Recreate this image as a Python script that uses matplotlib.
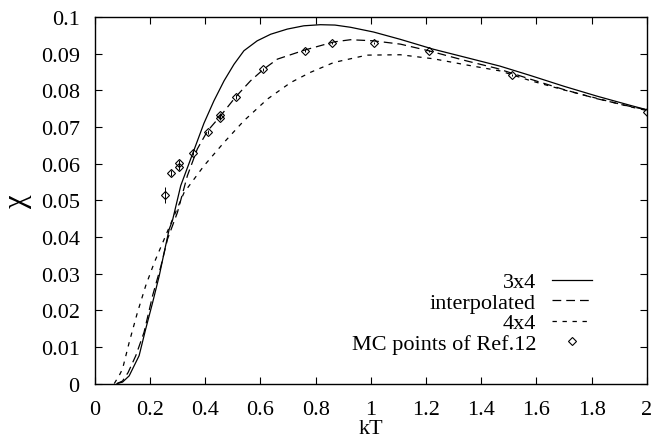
import numpy as np
import matplotlib
matplotlib.use("Agg")
import matplotlib.pyplot as plt
from matplotlib.ticker import FuncFormatter

plt.rcParams['font.family'] = ['Liberation Serif', 'DejaVu Serif']

# 3x4 cluster (solid)
kt_3x4 = [0.08, 0.10, 0.124, 0.16, 0.184, 0.209, 0.233, 0.251, 0.269, 0.281, 0.311, 0.357,
          0.395, 0.431, 0.468, 0.504, 0.54, 0.588, 0.637, 0.697, 0.757, 0.817, 0.87, 0.926,
          1.01, 1.107, 1.227, 1.348, 1.468, 1.58, 1.70, 1.82, 1.94, 2.0]
chi_3x4 = [0.0, 0.0004, 0.0021, 0.0076, 0.0149, 0.0221, 0.0294, 0.0358, 0.0421, 0.0445, 0.054, 0.0633,
           0.0710, 0.0771, 0.0826, 0.0871, 0.0908, 0.0935, 0.0953, 0.0967, 0.0976, 0.0979, 0.0978, 0.0972,
           0.0959, 0.0939, 0.0912, 0.0889, 0.0866, 0.0840, 0.0811, 0.0784, 0.0759, 0.0747]

# interpolated (long dashes)
kt_int = [0.08, 0.10, 0.12, 0.148, 0.178, 0.209, 0.239, 0.263, 0.299, 0.335, 0.371, 0.408,
          0.456, 0.51, 0.564, 0.612, 0.661, 0.761, 0.866, 0.926, 1.01, 1.107, 1.209, 1.348,
          1.456, 1.58, 1.70, 1.82, 1.94, 2.0]
chi_int = [0.0, 0.0007, 0.0030, 0.0076, 0.0140, 0.024, 0.032, 0.0394, 0.0467, 0.0567, 0.064, 0.0689,
           0.0731, 0.0782, 0.0826, 0.0858, 0.0885, 0.0910, 0.0932, 0.0938, 0.0935, 0.0926, 0.0908, 0.0880,
           0.0860, 0.0830, 0.0802, 0.0777, 0.0756, 0.0747]

# 4x4 cluster (short dashes)
kt_4x4 = [0.07, 0.09, 0.10, 0.124, 0.154, 0.184, 0.215, 0.251, 0.287, 0.323, 0.395, 0.468,
          0.54, 0.625, 0.709, 0.781, 0.866, 0.986, 1.107, 1.227, 1.348, 1.468, 1.58, 1.70,
          1.82, 1.94, 2.0]
chi_4x4 = [0.0, 0.0025, 0.0040, 0.0112, 0.0194, 0.0267, 0.0330, 0.0394, 0.0458, 0.0521, 0.0594, 0.0658,
           0.0717, 0.0776, 0.0821, 0.0849, 0.0876, 0.0896, 0.0897, 0.0886, 0.0869, 0.0853, 0.0826, 0.0801,
           0.0778, 0.0755, 0.0745]

# Monte Carlo points of Ref. 12
kt_mc = [0.255, 0.275, 0.305, 0.305, 0.355, 0.41, 0.455, 0.455, 0.51, 0.61, 0.76, 0.86,
         1.01, 1.21, 1.51, 2.0]
chi_mc = [0.0514, 0.0574, 0.0603, 0.0590, 0.0630, 0.0687, 0.0733, 0.0725, 0.0782, 0.0858, 0.0908, 0.0929,
          0.0929, 0.0908, 0.0841, 0.0742]
err_mc = [0.0022, 0.0008, 0.0008, 0.0008, 0.0007, 0.0006, 0.0006, 0.0006, 0.0005, 0.0004, 0.0004, 0.0004,
          0.0003, 0.0003, 0.0003, 0.0003]

fig = plt.figure(figsize=(6.64, 4.39), dpi=100)
ax = fig.add_axes([0.143, 0.124, 0.831, 0.835])

ax.plot(kt_3x4, chi_3x4, color='black', lw=0.9, label='3x4')
ax.plot(kt_int, chi_int, color='black', lw=0.9, dashes=(7, 4), label='interpolated')
ax.plot(kt_4x4, chi_4x4, color='black', lw=0.9, dashes=(3.5, 4.5), label='4x4')
ax.errorbar(kt_mc, chi_mc, yerr=err_mc, fmt='none', ecolor='black', elinewidth=0.7, capsize=0)
ax.plot(kt_mc, chi_mc, ls='none', marker='D', ms=4.5, mfc='none', mec='black', mew=0.8,
        label='MC points of Ref.12')

ax.set_xlim(0, 2)
ax.set_ylim(0, 0.1)
ax.set_xticks(np.arange(0, 2.01, 0.2))
ax.set_yticks(np.arange(0, 0.1001, 0.01))
fmt = FuncFormatter(lambda v, p: '%g' % round(v, 3))
ax.xaxis.set_major_formatter(fmt)
ax.yaxis.set_major_formatter(fmt)
ax.tick_params(direction='in', length=5, width=0.8, top=True, right=True, labelsize=16)
ax.tick_params(axis='x', pad=12)
ax.tick_params(axis='y', pad=11)
for s in ax.spines.values():
    s.set_linewidth(1.0)

ax.set_xlabel('kT', fontsize=16, labelpad=0)
ax.set_ylabel('χ', fontsize=22, labelpad=6)

leg = ax.legend(loc='upper right', bbox_to_anchor=(0.90, 0.305), frameon=False, fontsize=16,
                markerfirst=False, handlelength=1.8, handletextpad=0.7, labelspacing=0.0,
                borderpad=0, borderaxespad=0)
for col in leg._legend_handle_box.get_children():
    col.align = 'right'

fig.savefig('out.png', dpi=100)
